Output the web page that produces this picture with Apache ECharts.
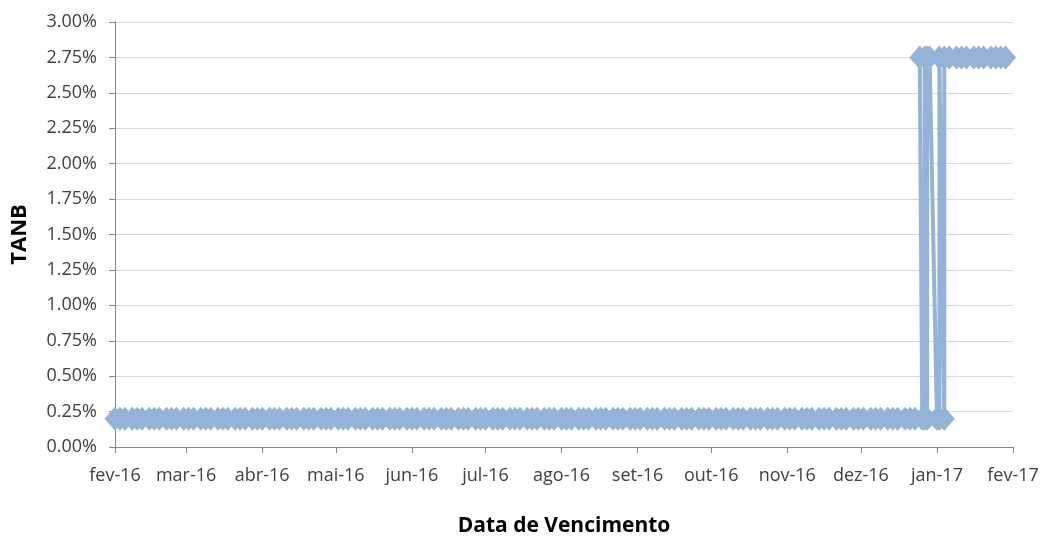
<!DOCTYPE html>
<html>
<head>
<meta charset="utf-8">
<script src="https://cdn.jsdelivr.net/npm/echarts@6/dist/echarts.min.js"></script>
<style>html,body{margin:0;padding:0;background:#fff}#c{width:1041px;height:538px}</style>
</head>
<body>
<div id="c"></div>
<script>
// Maturity dates (in table order) and TANB values (%)
const dates = [
'2016-02-01','2016-02-03','2016-02-05','2016-02-08','2016-02-10','2016-02-12','2016-02-15','2016-02-17','2016-02-19','2016-02-22','2016-02-24','2016-02-26','2016-02-29',
'2016-03-02','2016-03-04','2016-03-07','2016-03-09','2016-03-11','2016-03-14','2016-03-16','2016-03-18','2016-03-21','2016-03-23','2016-03-25','2016-03-28','2016-03-30',
'2016-04-01','2016-04-04','2016-04-06','2016-04-08','2016-04-11','2016-04-13','2016-04-15','2016-04-18','2016-04-20','2016-04-22','2016-04-25','2016-04-27','2016-04-29',
'2016-05-02','2016-05-04','2016-05-06','2016-05-09','2016-05-11','2016-05-13','2016-05-16','2016-05-18','2016-05-20','2016-05-23','2016-05-25','2016-05-27','2016-05-30',
'2016-06-01','2016-06-03','2016-06-06','2016-06-08','2016-06-10','2016-06-13','2016-06-15','2016-06-17','2016-06-20','2016-06-22','2016-06-24','2016-06-27','2016-06-29',
'2016-07-01','2016-07-04','2016-07-06','2016-07-08','2016-07-11','2016-07-13','2016-07-15','2016-07-18','2016-07-20','2016-07-22','2016-07-25','2016-07-27','2016-07-29',
'2016-08-01','2016-08-03','2016-08-05','2016-08-08','2016-08-10','2016-08-12','2016-08-15','2016-08-17','2016-08-19','2016-08-22','2016-08-24','2016-08-26','2016-08-29','2016-08-31',
'2016-09-02','2016-09-05','2016-09-07','2016-09-09','2016-09-12','2016-09-14','2016-09-16','2016-09-19','2016-09-21','2016-09-23','2016-09-26','2016-09-28','2016-09-30',
'2016-10-03','2016-10-05','2016-10-07','2016-10-10','2016-10-12','2016-10-14','2016-10-17','2016-10-19','2016-10-21','2016-10-24','2016-10-26','2016-10-28','2016-10-31',
'2016-11-02','2016-11-04','2016-11-07','2016-11-09','2016-11-11','2016-11-14','2016-11-16','2016-11-18','2016-11-21','2016-11-23','2016-11-25','2016-11-28','2016-11-30',
'2016-12-02','2016-12-05','2016-12-07','2016-12-09','2016-12-12','2016-12-14','2016-12-16','2016-12-19','2016-12-21','2016-12-23',
'2016-12-26','2016-12-25','2016-12-27','2016-12-27','2016-12-28','2016-12-28','2016-12-29','2017-01-01','2017-01-02','2017-01-02','2017-01-04','2017-01-04',
'2017-01-06','2017-01-09','2017-01-11','2017-01-13','2017-01-16','2017-01-18','2017-01-20','2017-01-23','2017-01-25','2017-01-27','2017-01-29'
];
const tanb = [
0.20,0.20,0.20,0.20,0.20,0.20,0.20,0.20,0.20,0.20,0.20,0.20,0.20,
0.20,0.20,0.20,0.20,0.20,0.20,0.20,0.20,0.20,0.20,0.20,0.20,0.20,
0.20,0.20,0.20,0.20,0.20,0.20,0.20,0.20,0.20,0.20,0.20,0.20,0.20,
0.20,0.20,0.20,0.20,0.20,0.20,0.20,0.20,0.20,0.20,0.20,0.20,0.20,
0.20,0.20,0.20,0.20,0.20,0.20,0.20,0.20,0.20,0.20,0.20,0.20,0.20,
0.20,0.20,0.20,0.20,0.20,0.20,0.20,0.20,0.20,0.20,0.20,0.20,0.20,
0.20,0.20,0.20,0.20,0.20,0.20,0.20,0.20,0.20,0.20,0.20,0.20,0.20,0.20,
0.20,0.20,0.20,0.20,0.20,0.20,0.20,0.20,0.20,0.20,0.20,0.20,0.20,
0.20,0.20,0.20,0.20,0.20,0.20,0.20,0.20,0.20,0.20,0.20,0.20,0.20,
0.20,0.20,0.20,0.20,0.20,0.20,0.20,0.20,0.20,0.20,0.20,0.20,0.20,
0.20,0.20,0.20,0.20,0.20,0.20,0.20,0.20,0.20,0.20,
0.20,2.75,2.75,0.20,0.20,2.75,2.75,0.20,0.20,2.75,0.20,2.75,
2.75,2.75,2.75,2.75,2.75,2.75,2.75,2.75,2.75,2.75,2.75
];
const monthNames = ['jan','fev','mar','abr','mai','jun','jul','ago','set','out','nov','dez'];
const xMin = '2016-02-01', xMax = '2017-02-01';
const yTicks = [0,0.25,0.5,0.75,1,1.25,1.5,1.75,2,2.25,2.5,2.75,3];

const chart = echarts.init(document.getElementById('c'));
const DAY = 86400000;
const font = '"Open Sans", sans-serif';
chart.setOption({
  animation: false,
  grid: {left: 115, right: 28, top: 22, bottom: 91, containLabel: false, outerBoundsMode: 'none'},
  xAxis: {
    type: 'time',
    min: xMin, max: xMax,
    minInterval: 28 * DAY, maxInterval: 31 * DAY,
    splitNumber: 12,
    name: 'Data de Vencimento',
    nameLocation: 'middle', nameGap: 69,
    nameTextStyle: {fontFamily: font, fontSize: 21, fontWeight: 'bold', color: '#000'},
    axisLine: {lineStyle: {color: '#868686', width: 1}},
    axisTick: {show: true, length: 6, lineStyle: {color: '#868686'}},
    splitLine: {show: false},
    axisLabel: {
      fontFamily: font, fontSize: 18, color: '#404040', margin: 20,
      showMinLabel: true, showMaxLabel: true, hideOverlap: false,
      formatter: function (v) {
        const d = new Date(v);
        return monthNames[d.getMonth()] + '-' + String(d.getFullYear()).slice(2);
      }
    }
  },
  yAxis: {
    type: 'value',
    min: yTicks[0], max: yTicks[yTicks.length - 1], interval: 0.25,
    name: 'TANB',
    nameLocation: 'middle', nameGap: 84, nameRotate: 90,
    nameTextStyle: {fontFamily: font, fontSize: 22, fontWeight: 'bold', color: '#000'},
    axisLine: {show: true, lineStyle: {color: '#868686', width: 1}},
    axisTick: {show: true, length: 6, lineStyle: {color: '#868686'}},
    splitLine: {show: true, lineStyle: {color: '#D9D9D9', width: 1}},
    axisLabel: {
      fontFamily: font, fontSize: 18, color: '#404040', margin: 18,
      formatter: function (v) { return v.toFixed(2) + '%'; }
    }
  },
  series: [{
    type: 'line',
    data: dates.map((d, i) => [d, tanb[i]]),
    symbol: 'diamond',
    symbolSize: [21, 24],
    showAllSymbol: true,
    itemStyle: {color: '#95B3D7'},
    lineStyle: {color: '#95B3D7', width: 4},
    z: 3
  }]
});
</script>
</body>
</html>
